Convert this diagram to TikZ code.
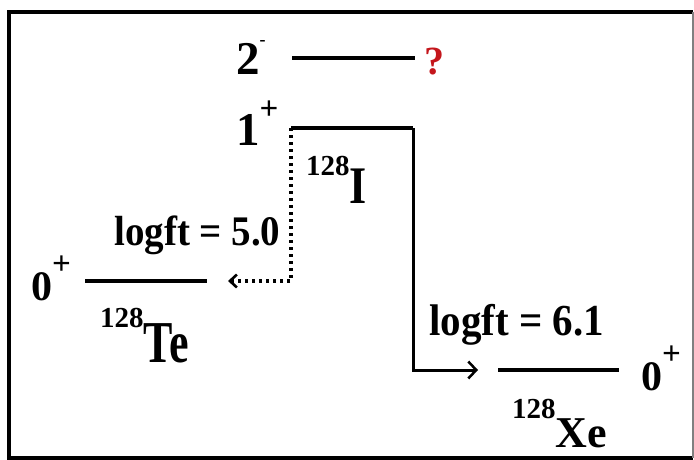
\documentclass[tikz,border=0pt]{standalone}
\usepackage{fontspec}
\setmainfont{Liberation Serif}
\usepackage{graphicx}
\usetikzlibrary{arrows.meta}

\definecolor{qred}{RGB}{196,22,28}
\newcommand{\jpi}[3][47]{{\fontsize{#1}{#1}\selectfont #2}\raisebox{26pt}{\fontsize{33}{33}\selectfont #3}}
\newcommand{\iso}[4]{\raisebox{#1}{\fontsize{29}{29}\selectfont #3}\scalebox{1}[#2]{#4}}

\begin{document}
\begin{tikzpicture}[x=1pt,y=-1pt,
  spinlbl/.style={anchor=base west,inner sep=0pt,font=\bfseries},
  nuc/.style={anchor=base west,inner sep=0pt,font=\fontsize{44}{44}\selectfont\bfseries},
  ftlbl/.style={anchor=base west,inner sep=0pt,yscale=1.08,font=\fontsize{39}{39}\selectfont\bfseries},
  level/.style={line width=3.4pt},
  frame/.style={line width=3.5pt}]
\useasboundingbox (0,0) rectangle (694,460);

\draw[frame] (693,458) -- (9,458) -- (9,12) -- (693,12);
\draw[gray,line width=1.5pt] (693,12) -- (693,458);

\coordinate (p1) at (292,58);
\coordinate (p2) at (415,58);
\coordinate (i1) at (291,128);
\coordinate (i2) at (413,128);
\coordinate (te1) at (85,281);
\coordinate (te2) at (207,281);
\coordinate (xe1) at (498,370);
\coordinate (xe2) at (619,370);
\coordinate (tearr) at (228,281);
\coordinate (xearr) at (478,370);

\draw[level] (p1) -- (p2);
\draw[level] (i1) -- (i2);
\draw[level] (te1) -- (te2);
\draw[level] (xe1) -- (xe2);

\draw[line width=3pt,-{Straight Barb[length=8pt,width=17pt,line width=2.5pt]}] (i2) |- (xearr);
\draw[line width=3.2pt,dash pattern=on 3pt off 4pt,-{Straight Barb[length=7pt,width=13pt,line width=2.6pt]}] (i1) |- (tearr);

\node[spinlbl] (s2) at (236,75) {\jpi{2}{\raisebox{3pt}{\fontsize{18}{18}\selectfont -}}};
\node[spinlbl,text=qred] (q) at (424,75) {\fontsize{40}{40}\selectfont ?};
\node[spinlbl] (s1) at (236,145) {\jpi{1}{+}};
\node[spinlbl] (s0te) at (31,300) {\jpi[42]{0}{+}};
\node[spinlbl] (s0xe) at (641,390) {\jpi[42]{0}{+}};

\node[nuc] (te) at (100,362) {\iso{35pt}{1.35}{128}{Te}};
\node[nuc] (i) at (306,203) {\iso{28pt}{1.2}{128}{I}};
\node[nuc] (xe) at (512,447) {\iso{29pt}{1}{128}{Xe}};

\node[ftlbl] (ft1) at (114,245) {logft = 5.0};
\node[ftlbl,font=\fontsize{41}{41}\selectfont\bfseries] (ft2) at (429,335) {logft = 6.1};
\end{tikzpicture}
\end{document}
